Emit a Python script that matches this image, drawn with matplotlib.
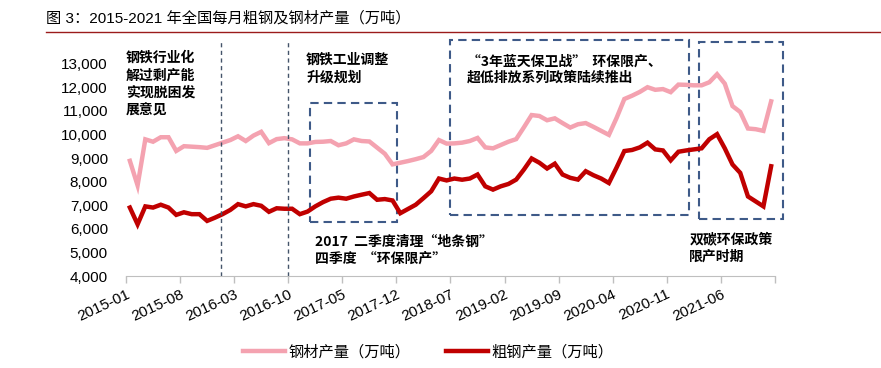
import matplotlib
matplotlib.use('Agg')
import matplotlib.pyplot as plt
from matplotlib.patches import Rectangle
from matplotlib.lines import Line2D
import numpy as np

plt.rcParams['font.family'] = ['Liberation Sans', 'Noto Sans CJK SC']

# 2015-01 .. 2021-12, monthly
steel_products = [
    8880, 7840, 9790, 9690, 9880, 9880, 9300, 9500, 9480, 9460, 9430, 9540,
    9650, 9760, 9920, 9720, 9950, 10110, 9630, 9800, 9840, 9790, 9620, 9620,
    9680, 9690, 9720, 9540, 9620, 9790, 9720, 9700, 9440, 9180, 8730, 8800,
    8870, 8950, 9040, 9300, 9760, 9610, 9620, 9650, 9720, 9850, 9450, 9410,
    9550, 9690, 9800, 10300, 10820, 10780, 10600, 10680, 10480, 10290, 10430, 10480,
    10320, 10150, 9980, 10700, 11500, 11640, 11800, 12000, 11890, 11920, 11790, 12110,
    12100, 12080, 12080, 12210, 12550, 12150, 11200, 10950, 10250, 10220, 10150, 11400,
]
crude_steel = [
    6900, 6190, 6950, 6900, 7020, 6900, 6590, 6700, 6620, 6620, 6335, 6470,
    6620, 6800, 7045, 6950, 7045, 6975, 6720, 6870, 6850, 6850, 6620, 6730,
    6950, 7130, 7275, 7320, 7275, 7370, 7445, 7515, 7230, 7260, 7200, 6660,
    6840, 7020, 7300, 7590, 8130, 8050, 8130, 8080, 8130, 8300, 7800, 7660,
    7800, 7900, 8085, 8510, 8980, 8800, 8555, 8760, 8300, 8160, 8085, 8440,
    8270, 8130, 7940, 8600, 9295, 9340, 9450, 9650, 9365, 9320, 8900, 9265,
    9320, 9365, 9410, 9795, 10010, 9410, 8725, 8370, 7370, 7160, 6950, 8650,
]
tick_labels = ['2015-01', '2015-08', '2016-03', '2016-10', '2017-05', '2017-12',
               '2018-07', '2019-02', '2019-09', '2020-04', '2020-11', '2021-06', '']
y_ticks = list(range(4000, 13001, 1000))

pink = '#F4A2B0'
red = '#C00000'
box_color = '#3E5A88'

fig = plt.figure(figsize=(8.81, 3.68), dpi=100)
ax = fig.add_axes([126 / 881, (368 - 276) / 368, 649 / 881, 236 / 368])

x = np.arange(len(steel_products))
ax.plot(x, steel_products, color=pink, lw=3.2, solid_joinstyle='miter', label='钢材产量（万吨）')
ax.plot(x, crude_steel, color=red, lw=3.2, solid_joinstyle='miter', label='粗钢产量（万吨）')

ax.set_xlim(-0.5, 83.5)
ax.set_ylim(4000, 14000)
ax.set_yticks(y_ticks, [f'{v:,}' for v in y_ticks])
ax.set_xticks(np.arange(-0.5, 84, 7), tick_labels)
for lab in ax.get_xticklabels():
    lab.set_rotation(25)
    lab.set_ha('right')
    lab.set_va('top')
    lab.set_rotation_mode('anchor')

ax.tick_params(axis='y', length=0, pad=13, labelsize=11)
ax.tick_params(axis='x', length=5, width=1, color='#BFBFBF', pad=3, labelsize=11)
for s in ['left', 'right', 'top']:
    ax.spines[s].set_visible(False)
ax.spines['bottom'].set_color('#BFBFBF')

# policy markers
for xv in [11.8, 20.5]:
    ax.plot([xv, xv], [4000, 14000], color='#44546A', lw=1, ls=(0, (3, 2.5)), clip_on=False)

boxes = [(23.3, 6285, 34.6, 11340), (41.4, 6570, 72.4, 14000), (73.7, 6430, 84.6, 13930)]
for x0, y0, x1, y1 in boxes:
    ax.add_patch(Rectangle((x0, y0), x1 - x0, y1 - y0, fill=False, ec=box_color,
                           lw=1.5, ls=(0, (4, 2.5)), clip_on=False))

tkw = dict(fontsize=10, fontweight='bold', va='top', ha='left', clip_on=False,
           family=['Noto Sans CJK SC', 'Liberation Sans'])
ax.text(-0.5, 13560, '钢铁行业化\n解过剩产能\n实现脱困发\n展意见', linespacing=1.35, **tkw)
ax.text(22.8, 13450, '钢铁工业调整\n升级规划', linespacing=1.35, **tkw)
ax.text(24.0, 5760, '2017  二季度清理“地条钢”\n四季度  “环保限产”', linespacing=1.3, **tkw)
ax.text(43.6, 13400, '“3年蓝天保卫战”  环保限产、\n超低排放系列政策陆续推出', linespacing=1.2, **tkw)
ax.text(72.4, 5830, '双碳环保政策\n限产时期', linespacing=1.3, **tkw)

fig.text(46 / 881, 1 - 18 / 368, '图 3：2015-2021 年全国每月粗钢及钢材产量（万吨）',
         fontsize=11, va='center', ha='left')
fig.add_artist(Line2D([46 / 881, 1.0], [1 - 32 / 368] * 2, color='#9B1B1B', lw=1))

fig.legend(loc='center', bbox_to_anchor=(428 / 881, 16 / 368), ncol=2, frameon=False,
           fontsize=11, handlelength=2.8, handletextpad=0.2, columnspacing=2.3)

fig.savefig('out.png', dpi=100)
